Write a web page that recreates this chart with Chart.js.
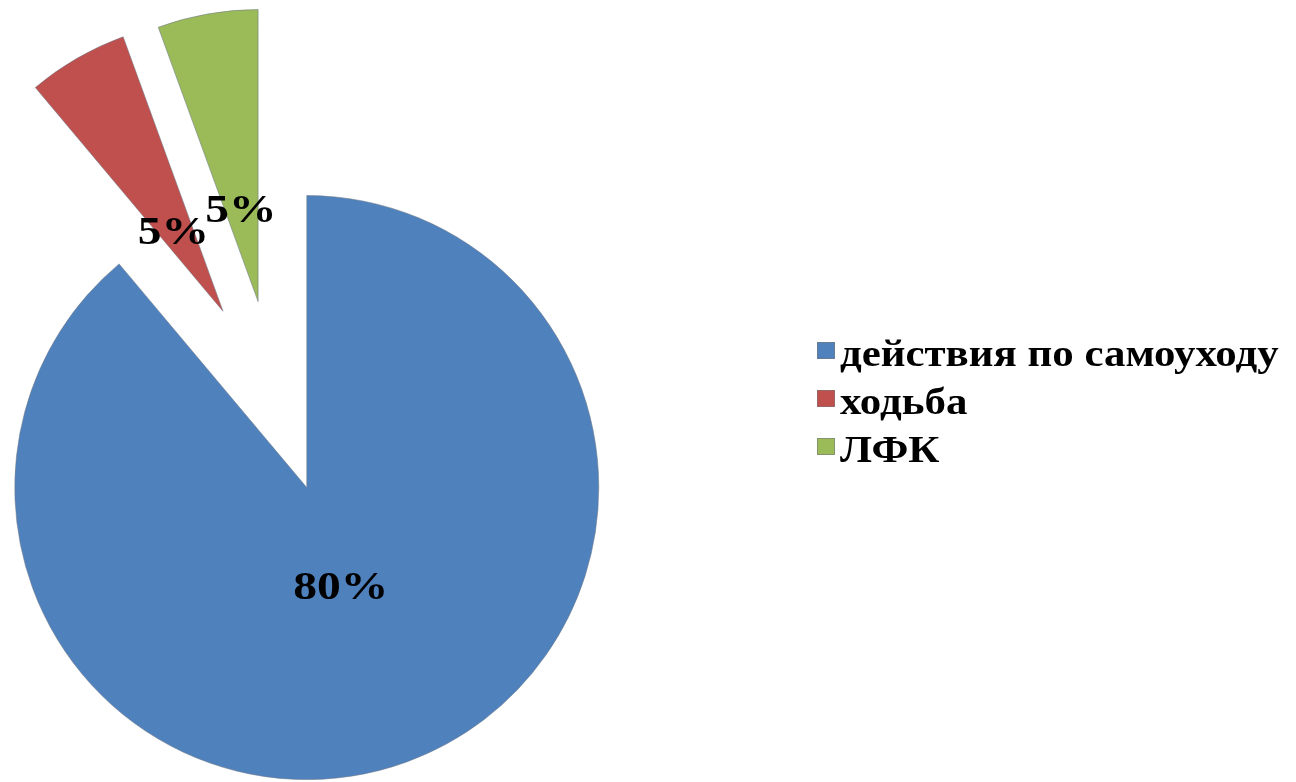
<!DOCTYPE html>
<html lang="ru">
<head>
<meta charset="utf-8">
<title>Самоуход</title>
<script src="https://cdn.jsdelivr.net/npm/chart.js@4.4.1/dist/chart.umd.min.js"></script>
<style>
  html, body { margin: 0; padding: 0; background: #fff; }
  canvas { display: block; }
</style>
</head>
<body>
<canvas id="chartSamouhod" width="1296" height="782"></canvas>
<script>
const categories = ['действия по самоуходу', 'ходьба', 'ЛФК'];
const shares = [80, 5, 5];

const sliceColors = ['#4F81BD', '#C0504D', '#9BBB59'];
// how far each slice is pulled away from the centre, px
const pullOut = [90, 106, 103];

const serif = '"Liberation Serif", "Times New Roman", serif';
// the captions are set a bit wider than the plain font
const textStretch = 1.16;

// pie whose slices are each shifted outwards along their middle angle
class ExplodedPie extends Chart.PieController {
  draw() {
    const ctx = this.chart.ctx;
    this._cachedMeta.data.forEach((arc, i) => {
      const mid = (arc.startAngle + arc.endAngle) / 2;
      const d = pullOut[i] || 0;
      ctx.save();
      ctx.translate(Math.cos(mid) * d, Math.sin(mid) * d);
      arc.draw(ctx);
      ctx.restore();
    });
  }
}
ExplodedPie.id = 'explodedPie';
ExplodedPie.defaults = Chart.PieController.defaults;
ExplodedPie.overrides = Chart.PieController.overrides;
Chart.register(ExplodedPie);

function wideText(ctx, text, x, y) {
  ctx.save();
  ctx.translate(x, y);
  ctx.scale(textStretch, 1);
  ctx.fillText(text, 0, 0);
  ctx.restore();
}

// percent labels inside the slices
const sliceLabels = {
  id: 'sliceLabels',
  afterDatasetsDraw(chart) {
    const ctx = chart.ctx;
    const meta = chart.getDatasetMeta(0);
    ctx.save();
    ctx.font = 'bold 41px ' + serif;
    ctx.fillStyle = '#000';
    ctx.textAlign = 'center';
    ctx.textBaseline = 'middle';
    meta.data.forEach((arc, i) => {
      const mid = (arc.startAngle + arc.endAngle) / 2;
      const r = pullOut[i] + arc.outerRadius * 0.34;
      wideText(ctx, shares[i] + '%', arc.x + Math.cos(mid) * r, arc.y + Math.sin(mid) * r + 8);
    });
    ctx.restore();
  }
};

// legend on the right: small square + bold caption
const sideLegend = {
  id: 'sideLegend',
  afterDraw(chart) {
    const ctx = chart.ctx;
    const colors = chart.data.datasets[0].backgroundColor;
    ctx.save();
    ctx.font = 'bold 37px ' + serif;
    ctx.textBaseline = 'alphabetic';
    ctx.textAlign = 'left';
    chart.data.labels.forEach((label, i) => {
      const base = 366 + i * 48;
      ctx.fillStyle = colors[i];
      ctx.fillRect(817, base - 24, 18, 17);
      ctx.strokeStyle = 'rgba(120,120,120,0.6)';
      ctx.lineWidth = 1;
      ctx.strokeRect(817.5, base - 23.5, 17, 16);
      ctx.fillStyle = '#000';
      wideText(ctx, label, 840, base);
    });
    ctx.restore();
  }
};

new Chart(document.getElementById('chartSamouhod'), {
  type: 'explodedPie',
  data: {
    labels: categories,
    datasets: [{
      data: shares,
      backgroundColor: sliceColors,
      borderColor: 'rgba(110,120,135,0.55)',
      borderWidth: 1,
      clip: false
    }]
  },
  options: {
    responsive: false,
    animation: false,
    radius: 292,
    layout: {
      padding: { left: 0, right: 744, top: 24, bottom: 0 }
    },
    plugins: {
      legend: { display: false },
      tooltip: { enabled: false }
    }
  },
  plugins: [sliceLabels, sideLegend]
});
</script>
</body>
</html>
